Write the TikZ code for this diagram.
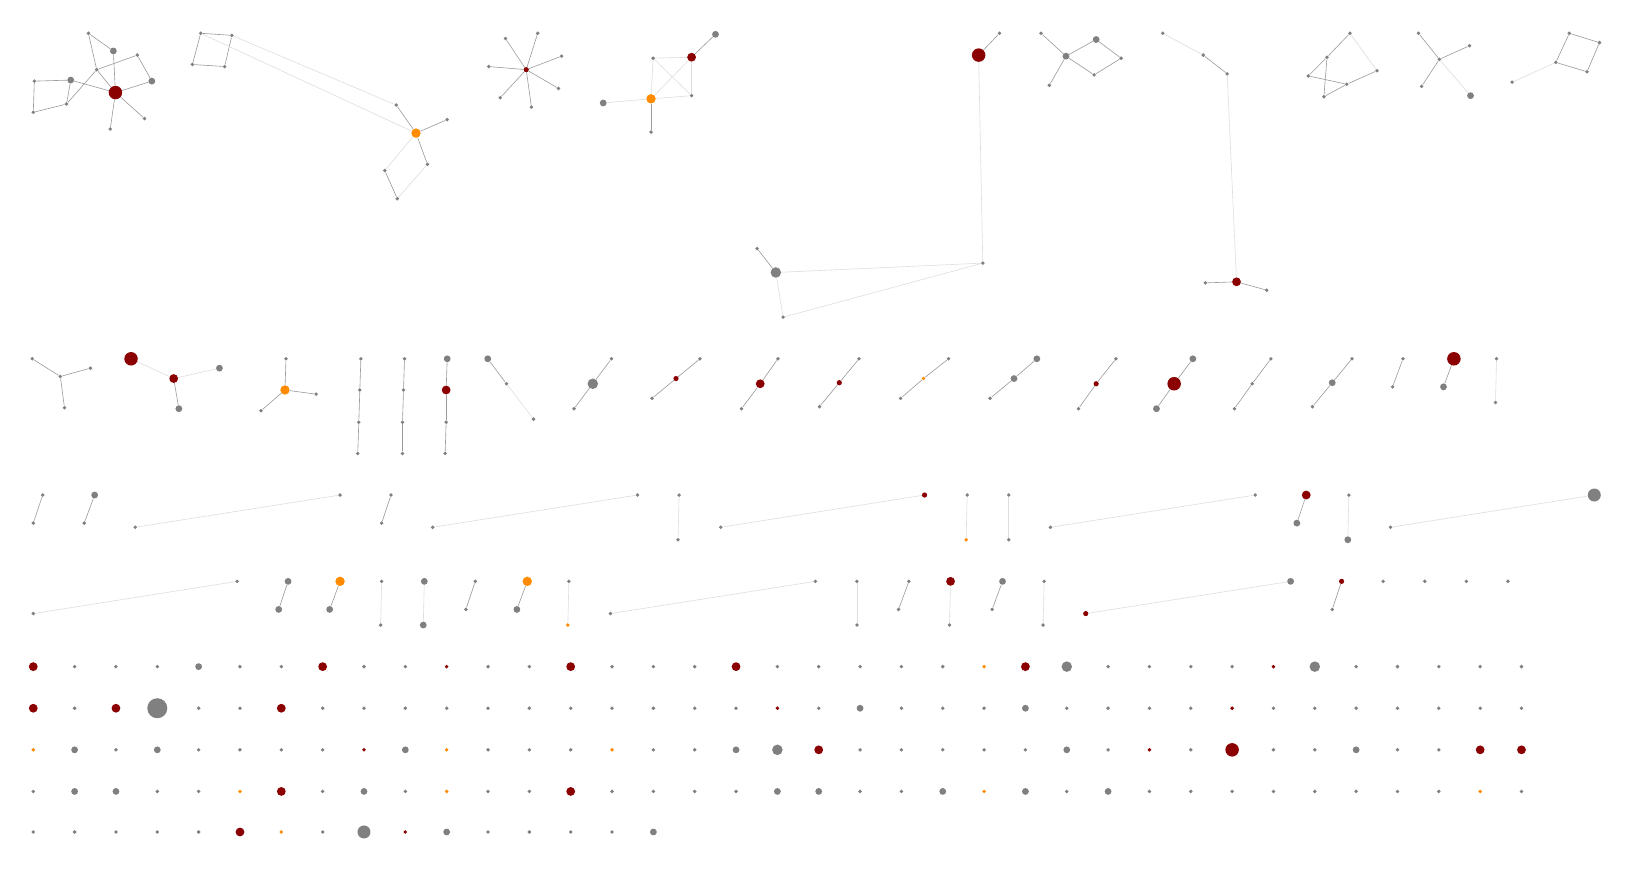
\documentclass[tikz,border=0pt]{standalone}
\usetikzlibrary{backgrounds}
\definecolor{ngray}{HTML}{808080}
\definecolor{nred}{HTML}{8B0000}
\definecolor{nor}{HTML}{FF8C00}
\definecolor{egray}{HTML}{9A9A9A}
\definecolor{elight}{HTML}{DEDEDE}
\tikzset{
  nb/.style={circle,inner sep=0pt,draw=none},
  k-s/.style={nb,fill=ngray,minimum size=3.8pt},
  k-m/.style={nb,fill=ngray,minimum size=6.8pt},
  k-M/.style={nb,fill=ngray,minimum size=10.5pt},
  k-L/.style={nb,fill=ngray,minimum size=13pt},
  k-B/.style={nb,fill=ngray,minimum size=20pt},
  k-t/.style={nb,fill=nred,minimum size=3.8pt},
  k-q/.style={nb,fill=nred,minimum size=5.2pt},
  k-r/.style={nb,fill=nred,minimum size=8.8pt},
  k-R/.style={nb,fill=nred,minimum size=13.5pt},
  k-o/.style={nb,fill=nor,minimum size=3.8pt},
  k-O/.style={nb,fill=nor,minimum size=9.4pt},
  de/.style={draw=egray,line width=0.6pt},
  le/.style={draw=elight,line width=0.6pt}
}
\newcommand\nd[4]{\node[k-#1] (#2) at (#3,#4) {};}
\newcommand\ed[2]{\draw[de] (#1)--(#2);}
\newcommand\el[2]{\draw[le] (#1)--(#2);}
\begin{document}
\begin{tikzpicture}[x=1.04pt,y=-1.04pt]
\useasboundingbox (0,0) rectangle (1568.3,839.4);
% A
\nd{s}{a1}{85}{32}\nd{m}{a2}{109}{49}\nd{s}{a3}{132}{53}\nd{m}{a4}{146}{78}
\nd{m}{a5}{68}{77}\nd{s}{a6}{33}{78}\nd{s}{a7}{32}{108}\nd{s}{a8}{64}{100}
\nd{s}{a9}{93}{67}\nd{R}{ah}{111}{89}\nd{s}{a10}{139}{114}\nd{s}{a11}{106}{124}
% B
\nd{s}{b1}{193}{32}\nd{s}{b2}{223}{34}\nd{s}{b3}{216}{64}\nd{s}{b4}{185}{62}
\nd{s}{b5}{381}{101}\nd{O}{bo}{400}{128}\nd{s}{b6}{430}{115}\nd{s}{b7}{411}{158}
\nd{s}{b8}{370}{164}\nd{s}{b9}{382}{191}
% C
\nd{q}{cc}{506}{67}
\nd{s}{c1}{486}{37}\nd{s}{c2}{517}{32}\nd{s}{c3}{540}{54}\nd{s}{c4}{537}{85}
\nd{s}{c5}{511}{103}\nd{s}{c6}{481}{94}\nd{s}{c7}{470}{64}
% D
\nd{m}{d1}{688}{33}\nd{r}{dr}{665}{55}\nd{s}{d2}{628}{56}\nd{s}{d3}{665}{92}
\nd{O}{do}{626}{95}\nd{m}{d4}{580}{99}\nd{s}{d5}{626}{127}
% E
\nd{R}{er}{941}{53}\nd{s}{e1}{961}{32}\nd{s}{e2}{945}{253}\nd{M}{eg}{746}{262}
\nd{s}{e3}{728}{239}\nd{s}{e4}{753}{305}
% F
\nd{s}{f1}{1001}{32}\nd{m}{fc}{1025}{54}\nd{m}{f2}{1054}{38}\nd{s}{f3}{1078}{56}
\nd{s}{f4}{1052}{72}\nd{s}{f5}{1009}{82}
% G
\nd{s}{g1}{1118}{32}\nd{s}{g2}{1157}{53}\nd{s}{g3}{1180}{71}\nd{r}{gr}{1189}{271}
\nd{s}{g4}{1159}{272}\nd{s}{g5}{1218}{279}
% H
\nd{s}{h1}{1298}{32}\nd{s}{h2}{1276}{55}\nd{s}{h3}{1324}{68}\nd{s}{h4}{1258}{73}
\nd{s}{h5}{1295}{81}\nd{s}{h6}{1273}{93}
% I
\nd{s}{i1}{1364}{32}\nd{s}{ic}{1384}{57}\nd{s}{i2}{1413}{44}\nd{s}{i3}{1367}{83}
\nd{m}{ig}{1414}{92}
% J
\nd{s}{j1}{1509}{32}\nd{s}{j2}{1538}{41}\nd{s}{j3}{1526}{69}\nd{s}{j4}{1496}{60}
\nd{s}{j5}{1454}{79}
% row 2
\nd{s}{k1}{31}{345}\nd{s}{kc}{58}{362}\nd{s}{k2}{87}{354}\nd{s}{k3}{62}{392}
\nd{R}{lr}{126}{345}\nd{r}{lm}{167}{364}\nd{m}{lg}{211}{354}\nd{m}{l1}{172}{393}
\nd{s}{m1}{275}{345}\nd{O}{mo}{274}{375}\nd{s}{m2}{304}{379}\nd{s}{m3}{251}{395}
\nd{s}{n11}{347}{345}\nd{s}{n12}{346}{375}\nd{s}{n13}{345}{406}\nd{s}{n14}{344}{436}
\nd{s}{n21}{389}{345}\nd{s}{n22}{388}{375}\nd{s}{n23}{387}{406}\nd{s}{n24}{387}{436}
\nd{m}{n31}{430}{345}\nd{r}{n32}{429}{375}\nd{s}{n33}{429}{406}\nd{s}{n34}{428}{436}
\nd{m}{p1}{469}{345}\nd{s}{p2}{487}{369}\nd{s}{p3}{513}{403}
\nd{s}{q11}{588}{345}\nd{M}{q12}{570}{369}\nd{s}{q13}{552}{393}
\nd{s}{q21}{673}{345}\nd{q}{q22}{650}{364}\nd{s}{q23}{627}{383}
\nd{s}{q31}{748}{345}\nd{r}{q32}{731}{369}\nd{s}{q33}{713}{393}
\nd{s}{q41}{826}{345}\nd{q}{q42}{807}{368}\nd{s}{q43}{788}{391}
\nd{s}{q51}{912}{345}\nd{o}{q52}{888}{364}\nd{s}{q53}{866}{383}
\nd{m}{q61}{997}{345}\nd{m}{q62}{975}{364}\nd{s}{q63}{952}{383}
\nd{s}{q71}{1073}{345}\nd{q}{q72}{1054}{369}\nd{s}{q73}{1037}{393}
\nd{m}{q81}{1147}{345}\nd{R}{q82}{1129}{369}\nd{m}{q83}{1112}{393}
\nd{s}{q91}{1222}{345}\nd{s}{q92}{1204}{369}\nd{s}{q93}{1187}{393}
\nd{s}{qa1}{1300}{345}\nd{m}{qa2}{1281}{368}\nd{s}{qa3}{1262}{391}
\nd{s}{r11}{1349}{345}\nd{s}{r12}{1339}{372}
\nd{R}{r21}{1398}{345}\nd{m}{r22}{1388}{372}
\nd{s}{r31}{1439}{345}\nd{s}{r32}{1438}{387}
% row 3
\nd{s}{s11}{41}{476}\nd{s}{s12}{32}{503}
\nd{m}{s21}{91}{476}\nd{s}{s22}{81}{503}
\nd{s}{s31}{130}{507}\nd{s}{s32}{327}{476}
\nd{s}{s41}{376}{476}\nd{s}{s42}{367}{503}
\nd{s}{s51}{416}{507}\nd{s}{s52}{613}{476}
\nd{s}{s61}{653}{476}\nd{s}{s62}{652}{519}
\nd{s}{s71}{693}{507}\nd{q}{s72}{889}{476}
\nd{s}{s81}{930}{476}\nd{o}{s82}{929}{519}
\nd{s}{s91}{970}{476}\nd{s}{s92}{970}{519}
\nd{s}{sa1}{1010}{507}\nd{s}{sa2}{1207}{476}
\nd{r}{sb1}{1256}{476}\nd{m}{sb2}{1247}{503}
\nd{s}{sc1}{1297}{476}\nd{m}{sc2}{1296}{519}
\nd{s}{sd1}{1337}{507}\nd{L}{sd2}{1533}{476}
% row 4
\nd{s}{t11}{32}{590}\nd{s}{t12}{228}{559}
\nd{m}{t21}{277}{559}\nd{m}{t22}{268}{586}
\nd{O}{t31}{327}{559}\nd{m}{t32}{317}{586}
\nd{s}{t41}{367}{559}\nd{s}{t42}{366}{601}
\nd{m}{t51}{408}{559}\nd{m}{t52}{407}{601}
\nd{s}{t61}{457}{559}\nd{s}{t62}{448}{586}
\nd{O}{t71}{507}{559}\nd{m}{t72}{497}{586}
\nd{s}{t81}{547}{559}\nd{o}{t82}{546}{601}
\nd{s}{t91}{587}{590}\nd{s}{t92}{784}{559}
\nd{s}{ta1}{824}{559}\nd{s}{ta2}{824}{601}
\nd{s}{tb1}{874}{559}\nd{s}{tb2}{864}{586}
\nd{r}{tc1}{914}{559}\nd{s}{tc2}{913}{601}
\nd{m}{td1}{964}{559}\nd{s}{td2}{954}{586}
\nd{s}{te1}{1004}{559}\nd{s}{te2}{1003}{601}
\nd{q}{tf1}{1044}{590}\nd{m}{tf2}{1241}{559}
\nd{q}{tg1}{1290}{559}\nd{s}{tg2}{1281}{586}
\nd{s}{th1}{1330}{559}\nd{s}{th2}{1370}{559}\nd{s}{th3}{1410}{559}\nd{s}{th4}{1450}{559}
% singles
\foreach \c [count=\i from 0] in {r,s,s,s,m,s,s,r,s,s,t,s,s,r,s,s,s,r,s,s,s,s,s,o,r,M,s,s,s,s,t,M,s,s,s,s,s}
  {\node[k-\c] (u1-\i) at ({32+39.75*\i},641) {};}
\foreach \c [count=\i from 0] in {r,s,r,B,s,s,r,s,s,s,s,s,s,s,s,s,s,s,t,s,m,s,s,s,m,s,s,s,s,t,s,s,s,s,s,s,s}
  {\node[k-\c] (u2-\i) at ({32+39.75*\i},681) {};}
\foreach \c [count=\i from 0] in {o,m,s,m,s,s,s,s,t,m,o,s,s,s,o,s,s,m,M,r,s,s,s,s,s,m,s,t,s,R,s,s,m,s,s,r,r}
  {\node[k-\c] (u3-\i) at ({32+39.75*\i},721) {};}
\foreach \c [count=\i from 0] in {s,m,m,s,s,o,r,s,m,s,o,s,s,r,s,s,s,s,m,m,s,s,m,o,m,s,m,s,s,s,s,s,s,s,s,o,s}
  {\node[k-\c] (u4-\i) at ({32+39.75*\i},761) {};}
\foreach \c [count=\i from 0] in {s,s,s,s,s,r,o,s,L,t,m,s,s,s,s,m}
  {\node[k-\c] (u5-\i) at ({32+39.75*\i},800) {};}
\begin{pgfonlayer}{background}
\fill[white] (0,0) rectangle (1568.3,839.4);
\ed{a1}{a2}\ed{a1}{a9}\ed{a2}{ah}\ed{a9}{a3}\ed{a3}{a4}\ed{a4}{ah}\ed{a9}{ah}
\ed{a9}{a8}\ed{a5}{ah}\ed{a6}{a5}\ed{a6}{a7}\ed{a7}{a8}\ed{a8}{a5}\ed{ah}{a10}\ed{ah}{a11}
\ed{b1}{b2}\ed{b2}{b3}\ed{b3}{b4}\ed{b4}{b1}\el{b1}{bo}\el{b2}{b5}\ed{b5}{bo}\ed{bo}{b6}
\ed{bo}{b7}\el{bo}{b8}\ed{b8}{b9}\el{b9}{b7}
\foreach \l in {c1,c2,c3,c4,c5,c6,c7}{\ed{cc}{\l}}
\ed{d1}{dr}\el{dr}{d2}\el{dr}{do}\el{d2}{d3}\el{d2}{do}\el{d3}{dr}\el{do}{d3}\el{do}{d4}\ed{do}{d5}
\ed{er}{e1}\el{er}{e2}\el{e2}{eg}\el{e2}{e4}\ed{eg}{e3}\el{eg}{e4}
\ed{f1}{fc}\ed{fc}{f2}\ed{f2}{f3}\ed{f3}{f4}\ed{f4}{fc}\ed{fc}{f5}
\el{g1}{g2}\ed{g2}{g3}\el{g3}{gr}\ed{gr}{g4}\ed{gr}{g5}
\ed{h1}{h2}\el{h1}{h3}\ed{h2}{h4}\ed{h2}{h6}\ed{h4}{h5}\ed{h3}{h5}\ed{h6}{h5}
\ed{i1}{ic}\ed{ic}{i2}\ed{ic}{i3}\el{ic}{ig}
\ed{j1}{j2}\ed{j2}{j3}\ed{j3}{j4}\ed{j4}{j1}\el{j4}{j5}
\ed{k1}{kc}\ed{kc}{k2}\ed{kc}{k3}
\el{lr}{lm}\el{lm}{lg}\ed{lm}{l1}
\ed{m1}{mo}\ed{mo}{m2}\ed{mo}{m3}
\ed{n11}{n12}\ed{n12}{n13}\ed{n13}{n14}\ed{n21}{n22}\ed{n22}{n23}\ed{n23}{n24}
\ed{n31}{n32}\ed{n32}{n33}\ed{n33}{n34}
\ed{p1}{p2}\el{p2}{p3}
\foreach \q in {q1,q2,q3,q4,q5,q6,q7,q8,q9,qa}{\ed{\q1}{\q2}\ed{\q2}{\q3}}
\ed{r11}{r12}\ed{r21}{r22}\el{r31}{r32}
\ed{s11}{s12}\ed{s21}{s22}\el{s31}{s32}\ed{s41}{s42}\el{s51}{s52}\el{s61}{s62}
\el{s71}{s72}\el{s81}{s82}\el{s91}{s92}\el{sa1}{sa2}\ed{sb1}{sb2}\el{sc1}{sc2}\el{sd1}{sd2}
\el{t11}{t12}\ed{t21}{t22}\ed{t31}{t32}\el{t41}{t42}\el{t51}{t52}\ed{t61}{t62}\ed{t71}{t72}
\el{t81}{t82}\el{t91}{t92}\el{ta1}{ta2}\ed{tb1}{tb2}\el{tc1}{tc2}\ed{td1}{td2}\el{te1}{te2}
\el{tf1}{tf2}\ed{tg1}{tg2}
\end{pgfonlayer}
\end{tikzpicture}
\end{document}
